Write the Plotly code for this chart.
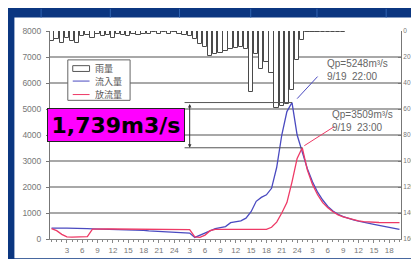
import plotly.graph_objects as go

# ---- data (hourly, hour index from start) ----
hours = list(range(69))
rain = [8, 6, 9, 5, 8, 9, 4, 3, 5, 2, 4, 3, 5, 2, 3, 4, 2, 3, 2, 2,
        1, 2, 1, 2, 1, 2, 3, 4, 6, 10, 12, 19, 18, 17, 15, 14, 13, 12, 14, 47,
        18, 29, 24, 32, 59, 58, 56, 45, 22, 7, 1, 1, 1, 1, 0.5, 0.5, 0.5, 0.5, 0, 0,
        0, 0, 0, 0, 0, 0, 0, 0, 0]
inflow = [420, 430, 420, 420, 420, 420, 410, 400, 390, 385, 385, 380, 375, 370, 360, 355, 350, 340, 330, 310,
          300, 290, 280, 270, 260, 250, 240, 230, 60, 150, 250, 330, 400, 440, 480, 630, 670, 700, 800, 1050,
          1450, 1600, 1700, 1950, 2750, 4000, 4900, 5248, 4000, 3300, 2700, 2200, 1800, 1500, 1250, 1080, 950, 860, 790, 740,
          690, 640, 600, 560, 520, 480, 440, 400, 370]
outflow = [400, 320, 180, 80, 70, 70, 70, 90, 380, 390, 390, 390, 385, 385, 380, 380, 380, 375, 375, 370,
           370, 370, 370, 370, 365, 365, 365, 360, 80, 60, 150, 320, 370, 370, 370, 370, 370, 370, 370, 370,
           370, 370, 370, 450, 650, 1000, 1400, 2200, 3100, 3509, 2650, 2100, 1700, 1400, 1200, 1050, 930, 850, 790, 740,
           700, 670, 650, 640, 635, 630, 630, 630, 630]
tick_vals = list(range(3, 67, 3))
tick_text = ["3", "6", "9", "12", "15", "18", "21", "24",
             "3", "6", "9", "12", "15", "18", "21", "24",
             "3", "6", "9", "12", "15", "18"]
series_names = ["雨量", "流入量", "放流量"]
peak_in_label = "9/19  22:00"
peak_out_label = "9/19  23:00"

BLUE = "#4a4ac0"
RED = "#ee3a66"

qin = max(inflow)
qout = max(outflow)
hin = inflow.index(qin)
hout = outflow.index(qout)

W, H = 419, 259
L, R, T, B = 42, 22, 23, 20
PW, PH = W - L - R, H - T - B

def px(xp):
    return (xp - L) / PW

def py(yp):
    return (H - B - yp) / PH

fig = go.Figure()
fig.add_trace(go.Bar(x=hours, y=rain, yaxis="y2", name=series_names[0], width=0.85,
                     marker=dict(color="white", line=dict(color="#4a4a4a", width=1))))
fig.add_trace(go.Scatter(x=hours, y=inflow, mode="lines", name=series_names[1],
                         line=dict(color=BLUE, width=1.3)))
fig.add_trace(go.Scatter(x=hours, y=outflow, mode="lines", name=series_names[2],
                         line=dict(color=RED, width=1.3)))

shapes = [
    dict(type="rect", xref="paper", yref="paper", x0=px(6), x1=px(419), y0=py(259), y1=py(9),
         fillcolor="white", line=dict(width=0), layer="below"),
]
for sx in [33, 103, 173, 245, 312, 382]:
    shapes.append(dict(type="line", xref="paper", yref="paper", x0=px(sx), x1=px(sx), y0=py(9), y1=py(0),
                       line=dict(color="#2e62b0", width=1)))
# horizontal reference lines at the peaks
shapes.append(dict(type="line", xref="x", yref="y", x0=26, x1=hin, y0=qin, y1=qin,
                   line=dict(color="#555", width=1)))
shapes.append(dict(type="line", xref="x", yref="y", x0=26, x1=hout, y0=qout, y1=qout,
                   line=dict(color="#555", width=1)))
# leader lines
shapes.append(dict(type="line", xref="x", yref="y", x0=hin + 1.0, x1=hin + 5.0, y0=qin + 150, y1=qin + 1000,
                   line=dict(color=BLUE, width=1)))
shapes.append(dict(type="line", xref="x", yref="y", x0=hout + 0.4, x1=hout + 6.3, y0=qout + 80, y1=qout + 820,
                   line=dict(color=RED, width=1)))

# manual legend
shapes.append(dict(type="rect", xref="paper", yref="paper", x0=px(60), x1=px(123), y0=py(95), y1=py(53),
                   fillcolor="white", line=dict(color="#666", width=1)))
shapes.append(dict(type="rect", xref="paper", yref="paper", x0=px(65), x1=px(82), y0=py(65), y1=py(59),
                   fillcolor="white", line=dict(color="#555", width=1)))
shapes.append(dict(type="line", xref="paper", yref="paper", x0=px(65), x1=px(82), y0=py(75), y1=py(75),
                   line=dict(color=BLUE, width=1)))
shapes.append(dict(type="line", xref="paper", yref="paper", x0=px(65), x1=px(82), y0=py(89), y1=py(89),
                   line=dict(color=RED, width=1)))

annotations = [
    dict(x=27, y=qout, ax=27, ay=qin, xref="x", yref="y", axref="x", ayref="y",
         showarrow=True, arrowhead=2, startarrowhead=2, arrowside="end+start",
         arrowsize=0.7, startarrowsize=0.7, arrowwidth=1, arrowcolor="#333", text=""),
    dict(x=px(109), y=py(120.5), xref="paper", yref="paper", xanchor="center", yanchor="middle",
         text="<b>%s,%03dm3/s</b>" % ((qin - qout) // 1000, (qin - qout) % 1000),
         width=136, height=32,
         showarrow=False, bgcolor="#ff00ff", bordercolor="#222", borderwidth=1, borderpad=0,
         font=dict(family="DejaVu Sans", size=22, color="black")),
    dict(x=px(320), y=py(64), xref="paper", yref="paper", xanchor="left", yanchor="middle", align="left",
         text="Qp=%dm³/s<br>%s" % (qin, peak_in_label), showarrow=False,
         font=dict(family="Liberation Sans", size=10, color="#666")),
    dict(x=px(325), y=py(116), xref="paper", yref="paper", xanchor="left", yanchor="middle", align="left",
         text="Qp=%dm³/s<br>%s" % (qout, peak_out_label), showarrow=False,
         font=dict(family="Liberation Sans", size=10, color="#666")),
]
for name, yy in zip(series_names, [62, 75, 89]):
    annotations.append(dict(x=px(85), y=py(yy), xref="paper", yref="paper", xanchor="left", yanchor="middle",
                            text=name, showarrow=False,
                            font=dict(family="Noto Sans CJK JP", size=9, color="#555")))

tickfont = dict(family="Liberation Sans", size=8, color="#777")
fig.update_layout(
    width=W, height=H, margin=dict(l=L, r=R, t=T, b=B),
    paper_bgcolor="#0b3680", plot_bgcolor="white",
    showlegend=False, bargap=0,
    xaxis=dict(range=[-0.3, 68.3], tickmode="array", tickvals=tick_vals, ticktext=tick_text,
               showgrid=False, zeroline=False, showline=True, linecolor="#888", linewidth=1,
               ticks="outside", ticklen=3, tickcolor="#888", tickfont=tickfont,
               minor=dict(dtick=1, ticks="outside", ticklen=2, tickcolor="#888")),
    yaxis=dict(range=[0, 8000], dtick=1000, showgrid=True, gridcolor="#a8a8a8", gridwidth=2,
               zeroline=False, showline=True, linecolor="#777", ticks="outside", ticklen=3,
               tickcolor="#777", tickfont=dict(family="Liberation Sans", size=8.5, color="#777"),
               ticklabelstandoff=3),
    yaxis2=dict(range=[160, 0], dtick=20, overlaying="y", side="right", showgrid=False,
                zeroline=False, showline=True, linecolor="#777", ticks="inside", ticklen=3,
                tickcolor="#777", tickfont=dict(family="Liberation Sans", size=6.5, color="#777")),
    shapes=shapes, annotations=annotations,
)
fig.write_html("out.html")
